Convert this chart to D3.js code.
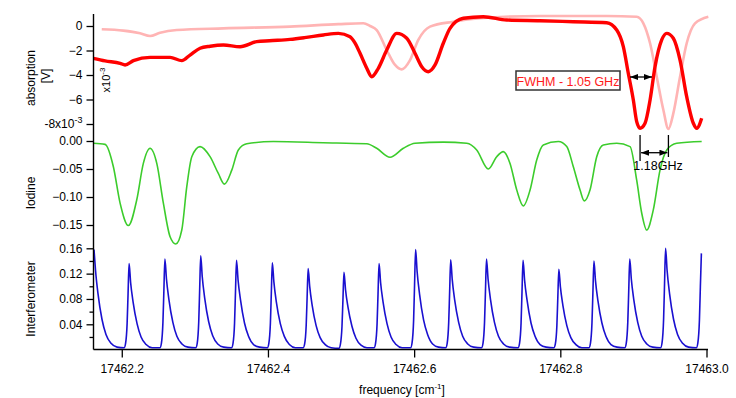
<!DOCTYPE html>
<html>
<head>
<meta charset="utf-8">
<script src="https://cdn.jsdelivr.net/npm/d3@7"></script>
<style>
body { margin: 0; background: #fff; }
svg { font-family: "Liberation Sans", Arial, sans-serif; }
.axis text { font-size: 12px; fill: #000; }
.axis line { stroke: #000; stroke-width: 1.3; }
.axis path { display: none; }
.lbl { font-size: 12px; fill: #000; }
</style>
</head>
<body>
<svg width="736" height="398"></svg>
<script>
// frequencies are stored as offsets from 17462 cm-1
var base = 17462;
var freqTicks = [0.2, 0.4, 0.6, 0.8, 1.0];
var freqTickLabels = ["17462.2", "17462.4", "17462.6", "17462.8", "17463.0"];

// absorption in units of 1e-3 V
var absTicks = [0, -2, -4, -6, -8];
var iodineTicks = [0, -0.05, -0.10, -0.15];
var fpTicks = [0.04, 0.08, 0.12, 0.16];
var fpMinorTicks = [0.02, 0.06, 0.10, 0.14];

var absRed = [
  [0.1611,-2.64],[0.1772,-2.85],[0.1977,-3.05],[0.2045,-3.18],[0.2159,-2.83],[0.2387,-2.56],
  [0.2661,-2.56],[0.2821,-2.83],[0.2934,-2.37],[0.3071,-1.82],[0.3210,-1.65],[0.3390,-1.55],
  [0.3618,-1.69],[0.3847,-1.28],[0.4020,-1.20],[0.4302,-1.09],[0.4500,-0.95],[0.4758,-0.73],
  [0.4963,-0.60],[0.5123,-0.87],[0.5192,-1.40],[0.5260,-2.23],[0.5352,-3.45],[0.5420,-4.14],
  [0.5510,-3.45],[0.5625,-1.96],[0.5762,-0.60],[0.5899,-1.00],[0.6012,-2.23],[0.6104,-3.32],
  [0.6194,-3.73],[0.6286,-3.18],[0.6399,-1.41],[0.6491,-0.19],[0.6673,0.63],[0.6947,0.76],
  [0.7267,0.49],[0.7722,0.43],[0.8178,0.35],[0.8635,0.27],[0.8772,-0.33],[0.8862,-1.69],
  [0.8930,-3.86],[0.8999,-6.04],[0.9045,-7.81],[0.9091,-8.35],[0.9159,-7.94],[0.9228,-6.04],
  [0.9296,-3.32],[0.9387,-1.14],[0.9456,-0.60],[0.9546,-1.00],[0.9638,-2.78],[0.9729,-5.77],
  [0.9820,-7.94],[0.9867,-8.35],[0.9934,-7.53]
];

var absPink = [
  [0.1726,-0.27],[0.2022,-0.38],[0.2250,-0.60],[0.2387,-0.82],[0.2524,-0.55],[0.2752,-0.33],
  [0.3390,-0.19],[0.4302,-0.05],[0.4963,0.15],[0.5305,0.22],[0.5397,0.00],[0.5488,-0.33],
  [0.5625,-1.96],[0.5739,-3.18],[0.5830,-3.54],[0.5944,-2.78],[0.6057,-1.14],[0.6217,-0.05],
  [0.6536,0.35],[0.6902,0.63],[0.7722,0.82],[0.8635,0.82],[0.9045,0.76],[0.9136,0.22],
  [0.9228,-1.41],[0.9319,-4.14],[0.9410,-6.86],[0.9479,-8.40],[0.9546,-7.13],[0.9638,-4.14],
  [0.9729,-1.41],[0.9843,0.22],[1.0025,0.76]
];

var iodine = [
  [0.1611,-0.004],[0.1772,-0.006],[0.1885,-0.046],[0.1977,-0.111],[0.2090,-0.151],[0.2205,-0.105],
  [0.2295,-0.040],[0.2387,-0.013],[0.2479,-0.040],[0.2569,-0.111],[0.2661,-0.171],[0.2739,-0.184],
  [0.2821,-0.159],[0.2889,-0.082],[0.2958,-0.028],[0.3071,-0.010],[0.3208,-0.028],[0.3321,-0.058],
  [0.3404,-0.077],[0.3505,-0.052],[0.3595,-0.016],[0.3710,-0.005],[0.4074,-0.001],[0.4754,-0.003],
  [0.5352,-0.005],[0.5488,-0.013],[0.5670,-0.029],[0.5852,-0.013],[0.6012,-0.004],[0.6400,-0.002],
  [0.6720,-0.004],[0.6856,-0.016],[0.7015,-0.050],[0.7130,-0.028],[0.7220,-0.019],[0.7312,-0.040],
  [0.7404,-0.0875],[0.7494,-0.116],[0.7586,-0.0875],[0.7677,-0.034],[0.7767,-0.007],[0.7973,-0.001],
  [0.8088,-0.010],[0.8178,-0.046],[0.8270,-0.0875],[0.8328,-0.107],[0.8406,-0.0875],[0.8498,-0.028],
  [0.8588,-0.007],[0.8772,-0.004],[0.8954,-0.010],[0.9045,-0.070],[0.9114,-0.129],[0.9182,-0.159],
  [0.9272,-0.123],[0.9364,-0.052],[0.9456,-0.016],[0.9592,-0.004],[0.9934,-0.001]
];

// one row per fringe
var interferometer = [
  [0.1620,0.158],[0.1641,0.125],[0.1675,0.088],[0.1729,0.048],[0.1784,0.024],[0.1853,0.010],[0.1935,0.004],
  [0.2032,0.003],[0.2052,0.010],[0.2073,0.041],[0.2086,0.088],[0.2100,0.136],[0.2121,0.106],[0.2155,0.075],[0.2209,0.041],[0.2264,0.020],[0.2333,0.008],[0.2415,0.003],
  [0.2522,0.003],[0.2542,0.010],[0.2563,0.043],[0.2576,0.093],[0.2590,0.143],[0.2611,0.112],[0.2645,0.079],[0.2699,0.043],[0.2754,0.021],[0.2823,0.009],[0.2905,0.004],
  [0.3012,0.003],[0.3032,0.010],[0.3053,0.044],[0.3066,0.096],[0.3080,0.148],[0.3101,0.115],[0.3135,0.081],[0.3189,0.044],[0.3244,0.022],[0.3313,0.009],[0.3395,0.004],
  [0.3502,0.003],[0.3522,0.010],[0.3543,0.042],[0.3556,0.092],[0.3570,0.141],[0.3591,0.110],[0.3625,0.078],[0.3679,0.042],[0.3734,0.021],[0.3803,0.008],[0.3885,0.004],
  [0.3992,0.003],[0.4012,0.010],[0.4033,0.041],[0.4046,0.089],[0.4060,0.137],[0.4081,0.107],[0.4115,0.075],[0.4169,0.041],[0.4224,0.021],[0.4293,0.008],[0.4375,0.003],
  [0.4482,0.003],[0.4502,0.009],[0.4523,0.038],[0.4536,0.083],[0.4550,0.128],[0.4571,0.100],[0.4605,0.070],[0.4659,0.038],[0.4714,0.019],[0.4783,0.008],[0.4865,0.003],
  [0.4972,0.002],[0.4992,0.009],[0.5013,0.037],[0.5026,0.079],[0.5040,0.122],[0.5061,0.095],[0.5095,0.067],[0.5149,0.037],[0.5204,0.018],[0.5273,0.007],[0.5355,0.003],
  [0.5452,0.003],[0.5472,0.010],[0.5493,0.041],[0.5506,0.088],[0.5520,0.136],[0.5541,0.106],[0.5575,0.075],[0.5629,0.041],[0.5684,0.020],[0.5753,0.008],[0.5835,0.003],
  [0.5952,0.003],[0.5972,0.011],[0.5993,0.047],[0.6006,0.103],[0.6020,0.158],[0.6041,0.123],[0.6075,0.087],[0.6129,0.047],[0.6184,0.024],[0.6253,0.009],[0.6335,0.004],
  [0.6432,0.003],[0.6452,0.010],[0.6473,0.043],[0.6486,0.092],[0.6500,0.142],[0.6521,0.111],[0.6555,0.078],[0.6609,0.043],[0.6664,0.021],[0.6733,0.009],[0.6815,0.004],
  [0.6922,0.003],[0.6942,0.010],[0.6963,0.043],[0.6976,0.093],[0.6990,0.143],[0.7011,0.112],[0.7045,0.079],[0.7099,0.043],[0.7154,0.021],[0.7223,0.009],[0.7305,0.004],
  [0.7422,0.003],[0.7442,0.010],[0.7463,0.042],[0.7476,0.092],[0.7490,0.141],[0.7511,0.110],[0.7545,0.078],[0.7599,0.042],[0.7654,0.021],[0.7723,0.008],[0.7805,0.004],
  [0.7912,0.003],[0.7932,0.009],[0.7953,0.038],[0.7966,0.083],[0.7980,0.127],[0.8001,0.099],[0.8035,0.070],[0.8089,0.038],[0.8144,0.019],[0.8213,0.008],[0.8295,0.003],
  [0.8392,0.003],[0.8412,0.010],[0.8433,0.042],[0.8446,0.091],[0.8460,0.140],[0.8481,0.109],[0.8515,0.077],[0.8569,0.042],[0.8624,0.021],[0.8693,0.008],[0.8775,0.004],
  [0.8882,0.003],[0.8902,0.010],[0.8923,0.043],[0.8936,0.093],[0.8950,0.143],[0.8971,0.112],[0.9005,0.079],[0.9059,0.043],[0.9114,0.021],[0.9183,0.009],[0.9265,0.004],
  [0.9372,0.003],[0.9392,0.011],[0.9413,0.048],[0.9426,0.104],[0.9440,0.160],[0.9461,0.125],[0.9495,0.088],[0.9549,0.048],[0.9604,0.024],[0.9673,0.010],[0.9755,0.004],
  [0.9862,0.003],[0.9882,0.011],[0.9903,0.046],[0.9916,0.099],[0.9930,0.152]
];

// annotation: trough positions of the two absorption lines
var troughRed = 0.9091, troughPink = 0.9479;

var svg = d3.select("svg");
var axisX = 93.5, axisBottom = 349.5;

var x = d3.scaleLinear().domain([0.162, 1.0]).range([94, 706.5]);
var yAbs = d3.scaleLinear().domain([0, -8]).range([26, 124]);
var yI2 = d3.scaleLinear().domain([0, -0.15]).range([141, 225]);
var yFp = d3.scaleLinear().domain([0.04, 0.16]).range([324.3, 248.3]);

function lineFor(y) {
  return d3.line()
    .x(function(d) { return x(d[0]); })
    .y(function(d) { return y(d[1]); })
    .curve(d3.curveMonotoneX);
}

// traces
svg.append("path").datum(absPink)
  .attr("d", lineFor(yAbs)).attr("fill", "none")
  .attr("stroke", "#ffb4b4").attr("stroke-width", 2.6);
svg.append("path").datum(absRed)
  .attr("d", lineFor(yAbs)).attr("fill", "none")
  .attr("stroke", "#ff0000").attr("stroke-width", 3.4).attr("stroke-linejoin", "round");
svg.append("path").datum(iodine)
  .attr("d", lineFor(yI2)).attr("fill", "none")
  .attr("stroke", "#3ccc2c").attr("stroke-width", 1.6);
svg.append("path").datum(interferometer)
  .attr("d", lineFor(yFp)).attr("fill", "none")
  .attr("stroke", "#1a10d0").attr("stroke-width", 1.6);

// axes
var gAbs = svg.append("g").attr("class", "axis")
  .attr("transform", "translate(" + axisX + ",0)")
  .call(d3.axisLeft(yAbs).tickValues(absTicks).tickSize(7).tickPadding(4)
    .tickFormat(function(d) { return d3.format("d")(d); }));
gAbs.selectAll(".tick text").filter(function(d) { return d === -8; })
  .each(function() {
    var t = d3.select(this).text("-8x10");
    t.append("tspan").attr("dy", -5).style("font-size", "9px").text("-3");
  });

svg.append("g").attr("class", "axis")
  .attr("transform", "translate(" + axisX + ",0)")
  .call(d3.axisLeft(yI2).tickValues(iodineTicks).tickSize(7).tickPadding(4)
    .tickFormat(d3.format(".2f")));

svg.append("g").attr("class", "axis")
  .attr("transform", "translate(" + axisX + ",0)")
  .call(d3.axisLeft(yFp).tickValues(fpTicks).tickSize(7).tickPadding(4)
    .tickFormat(d3.format(".2f")));
svg.append("g").attr("class", "axis")
  .attr("transform", "translate(" + axisX + ",0)")
  .call(d3.axisLeft(yFp).tickValues(fpMinorTicks).tickSize(4).tickFormat(""));

svg.append("g").attr("class", "axis")
  .attr("transform", "translate(0," + axisBottom + ")")
  .call(d3.axisBottom(x).tickValues(freqTicks).tickSize(8).tickPadding(7)
    .tickFormat(function(d, i) { return freqTickLabels[i]; }));

// axis lines
svg.append("line").attr("x1", axisX).attr("x2", axisX).attr("y1", 14).attr("y2", axisBottom)
  .attr("stroke", "#000").attr("stroke-width", 1.4);
svg.append("line").attr("x1", axisX).attr("x2", 708).attr("y1", axisBottom).attr("y2", axisBottom)
  .attr("stroke", "#000").attr("stroke-width", 1.4);

// axis titles
function vLabel(cx, cy, txt) {
  return svg.append("text").attr("class", "lbl")
    .attr("transform", "translate(" + cx + "," + cy + ") rotate(-90)")
    .attr("text-anchor", "middle").text(txt);
}
vLabel(35, 78, "absorption");
vLabel(50, 76, "[V]");
vLabel(35, 193, "Iodine");
vLabel(35, 299, "Interferometer");

var sc = vLabel(110, 80, "x10").style("font-size", "11px");
sc.append("tspan").attr("dy", -5).style("font-size", "8px").text("-3");

var fl = svg.append("text").attr("class", "lbl")
  .attr("x", 402).attr("y", 394).attr("text-anchor", "middle")
  .text("frequency  [cm");
fl.append("tspan").attr("dy", -5).style("font-size", "8px").text("-1");
fl.append("tspan").attr("dy", 5).text("]");

// arrowheads
var defs = svg.append("defs");
defs.append("marker").attr("id", "ah")
  .attr("viewBox", "0 0 8 6").attr("refX", 8).attr("refY", 3)
  .attr("markerWidth", 8).attr("markerHeight", 6)
  .attr("markerUnits", "userSpaceOnUse")
  .attr("orient", "auto-start-reverse")
  .append("path").attr("d", "M0,0 L8,3 L0,6 z").attr("fill", "#000");

// FWHM annotation
svg.append("rect").attr("x", 516).attr("y", 71).attr("width", 104).attr("height", 19)
  .attr("fill", "#fff").attr("stroke", "#333").attr("stroke-width", 1.5);
svg.append("text").attr("x", 568).attr("y", 85.5).attr("text-anchor", "middle")
  .style("font-size", "12.5px").attr("fill", "#ff1a1a").text("FWHM - 1.05 GHz");
svg.append("line").attr("x1", 630).attr("x2", 652).attr("y1", 77).attr("y2", 77)
  .attr("stroke", "#000").attr("stroke-width", 1.3)
  .attr("marker-start", "url(#ah)").attr("marker-end", "url(#ah)");

// line spacing annotation
svg.append("line").attr("x1", x(troughRed)).attr("x2", x(troughRed))
  .attr("y1", yAbs(-8.9)).attr("y2", 161).attr("stroke", "#000").attr("stroke-width", 1.3);
svg.append("line").attr("x1", x(troughPink)).attr("x2", x(troughPink))
  .attr("y1", yAbs(-8.9)).attr("y2", 157).attr("stroke", "#000").attr("stroke-width", 1.3);
svg.append("line").attr("x1", x(troughRed) + 1).attr("x2", x(troughPink) - 1)
  .attr("y1", 152.7).attr("y2", 152.7)
  .attr("stroke", "#000").attr("stroke-width", 1.3)
  .attr("marker-start", "url(#ah)").attr("marker-end", "url(#ah)");
svg.append("text").attr("x", 658).attr("y", 169.5).attr("text-anchor", "middle")
  .style("font-size", "12.5px").attr("fill", "#000").text("1.18GHz");
</script>
</body>
</html>
